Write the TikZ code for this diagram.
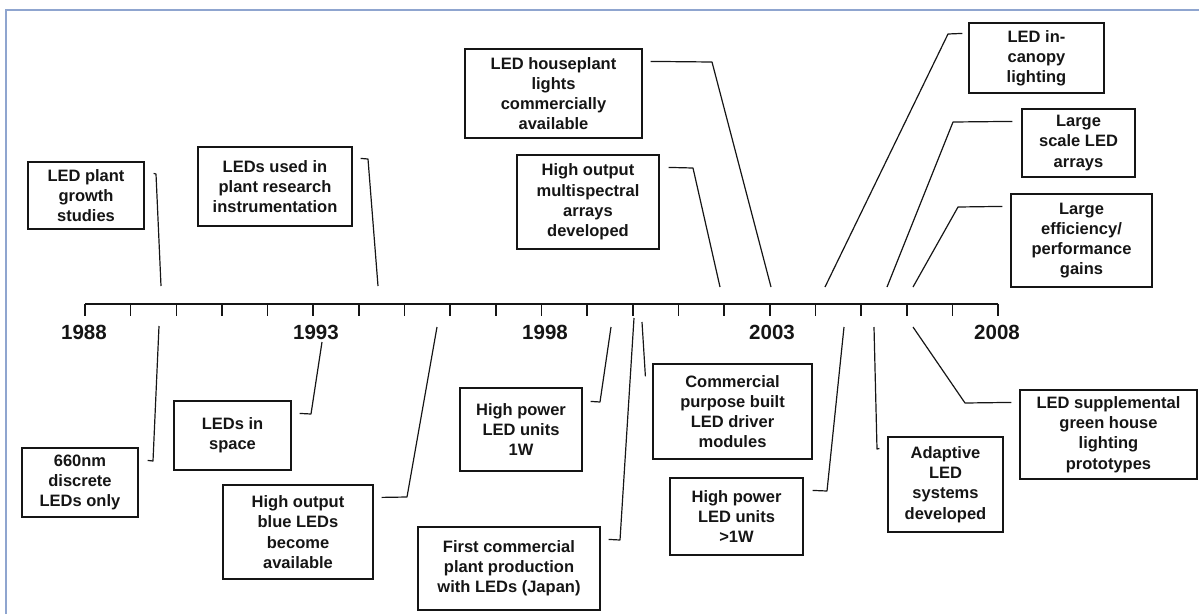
\documentclass[tikz,border=0pt]{standalone}
\usepackage{fontspec}
\setmainfont{Liberation Sans}
\definecolor{framecol}{HTML}{8FA5CF}
\definecolor{ink}{HTML}{151515}
\begin{document}
\begin{tikzpicture}[x=1pt,y=-1pt,
  evbox/.style={draw=ink, line width=1.2pt, align=center, inner sep=0pt,
    font=\fontsize{16.5}{20.2}\selectfont\bfseries, text=ink},
  conn/.style={draw=ink, line width=1.2pt, line join=round},
  yearlab/.style={font=\fontsize{20.5}{24}\selectfont\bfseries, text=ink, inner sep=0pt}]
\useasboundingbox (0,0) rectangle (1199,614);
% frame
\draw[framecol, line width=1.5pt] (6,614) -- (6,10) -- (1199,10);
% axis
\coordinate (axL) at (85,304);
\coordinate (axR) at (998,304);
\draw[ink, line width=1.6pt] (axL) -- (axR);
\foreach \k in {0,...,20} {
  \draw[ink, line width=1.6pt] ({85+45.65*\k},303.5) -- ({85+45.65*\k},316);
}
\node[yearlab] (y1988) at (84,332) {1988};
\node[yearlab] (y1993) at (316,332) {1993};
\node[yearlab] (y1998) at (545,332) {1998};
\node[yearlab] (y2003) at (772,332) {2003};
\node[yearlab] (y2008) at (997,332) {2008};
% boxes above
\node[evbox, minimum width=116pt, minimum height=67pt] (b1) at (86,195.5) {LED plant\\growth\\studies};
\node[evbox, minimum width=154pt, minimum height=79pt] (b2) at (275,186.5) {LEDs used in\\plant research\\instrumentation};
\node[evbox, minimum width=177pt, minimum height=89pt] (b3) at (553.5,93.5) {LED houseplant\\lights\\commercially\\available};
\node[evbox, minimum width=142pt, minimum height=94pt] (b4) at (588,202) {High output\\multispectral\\arrays\\developed};
\node[evbox, minimum width=135pt, minimum height=70pt] (b5) at (1036.5,58) {LED in-\\canopy\\lighting};
\node[evbox, minimum width=113pt, minimum height=68pt] (b6) at (1078.5,143) {Large\\scale LED\\arrays};
\node[evbox, minimum width=141pt, minimum height=93pt] (b7) at (1081.5,240.5) {Large\\efficiency/\\performance\\gains};
% boxes below
\node[evbox, minimum width=116pt, minimum height=69pt] (b8) at (80,482.5) {660nm\\discrete\\LEDs only};
\node[evbox, minimum width=117pt, minimum height=69pt] (b9) at (232.5,435.5) {LEDs in\\space};
\node[evbox, minimum width=150pt, minimum height=94pt] (b10) at (298,532) {High output\\blue LEDs\\become\\available};
\node[evbox, minimum width=122pt, minimum height=83pt] (b11) at (521,429.5) {High power\\LED units\\1W};
\node[evbox, minimum width=182pt, minimum height=83pt] (b12) at (509,568.5) {First commercial\\plant production\\with LEDs (Japan)};
\node[evbox, minimum width=159pt, minimum height=95pt] (b13) at (732.5,411.5) {Commercial\\purpose built\\LED driver\\modules};
\node[evbox, minimum width=133pt, minimum height=77pt] (b14) at (736.5,516.5) {High power\\LED units\\>1W};
\node[evbox, minimum width=115pt, minimum height=95pt] (b15) at (945.5,484.5) {Adaptive\\LED\\systems\\developed};
\node[evbox, minimum width=177pt, minimum height=89pt] (b16) at (1108.5,434.5) {LED supplemental\\green house\\lighting\\prototypes};
% connector ends on the axis
\coordinate (e1) at (161,286);
\coordinate (e2) at (378,286);
\coordinate (e3) at (771,287);
\coordinate (e4) at (720,287);
\coordinate (e5) at (825,287);
\coordinate (e6) at (887,287);
\coordinate (e7) at (913,287);
\coordinate (e8) at (159,326);
\coordinate (e9) at (322,342);
\coordinate (e10) at (437,327);
\coordinate (e11) at (611,327);
\coordinate (e12) at (634,318);
\coordinate (e13) at (642,322);
\coordinate (e14) at (844,327);
\coordinate (e15) at (874,327);
\coordinate (e16) at (913,327);
% connectors
\draw[conn] ([shift={(9,12)}]b1.north east) -- (156,174) -- (e1);
\draw[conn] ([shift={(8,12)}]b2.north east) -- (368,159) -- (e2);
\draw[conn] ([shift={(8,13)}]b3.north east) -- (712,62) -- (e3);
\draw[conn] ([shift={(9,13)}]b4.north east) -- (693,168) -- (e4);
\draw[conn] ([shift={(-6,11)}]b5.north west) -- (948,34) -- (e5);
\draw[conn] ([shift={(-9,13)}]b6.north west) -- (953,122) -- (e6);
\draw[conn] ([shift={(-8,13)}]b7.north west) -- (958,207) -- (e7);
\draw[conn] ([shift={(9,13)}]b8.north east) -- (153,461) -- (e8);
\draw[conn] ([shift={(8,13)}]b9.north east) -- (311,414) -- (e9);
\draw[conn] ([shift={(8,13)}]b10.north east) -- (407,497) -- (e10);
\draw[conn] ([shift={(8,14)}]b11.north east) -- (600,402) -- (e11);
\draw[conn] ([shift={(8,13)}]b12.north east) -- (620,540) -- (e12);
\draw[conn] ([shift={(-7,13)}]b13.north west) -- (e13);
\draw[conn] ([shift={(9,13)}]b14.north east) -- (827,491) -- (e14);
\draw[conn] ([shift={(-8,12)}]b15.north west) -- (877,449) -- (e15);
\draw[conn] ([shift={(-8,13)}]b16.north west) -- (965,403) -- (e16);
\end{tikzpicture}
\end{document}
